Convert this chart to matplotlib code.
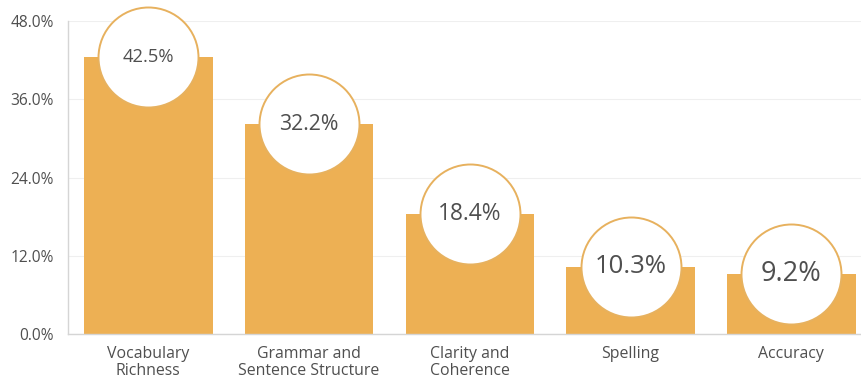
import matplotlib
matplotlib.use("Agg")
import matplotlib.pyplot as plt
from matplotlib.ticker import FuncFormatter

# --- data ---
categories = ["Vocabulary\nRichness", "Grammar and\nSentence Structure",
              "Clarity and\nCoherence", "Spelling", "Accuracy"]
shares = [42.5, 32.2, 18.4, 10.3, 9.2]
y_ticks = [0, 12, 24, 36, 48]

# --- style ---
bar_color = "#EDB054"
ring_color = "#E7B15E"
text_color = "#4F4F4F"
label_sizes = [13.2, 15.3, 16.4, 18.5, 19.5]

plt.rcParams["font.family"] = ["Open Sans", "DejaVu Sans"]

fig = plt.figure(figsize=(8.62, 3.78), dpi=100)
ax = fig.add_axes([68 / 862, 44 / 378, 794 / 862, 313 / 378])

x = list(range(len(categories)))
ax.bar(x, shares, width=0.8, color=bar_color, zorder=2)

# white bubbles sitting on top of each bar
ax.scatter(x, shares, s=72 ** 2, marker="o", facecolor="white",
           edgecolor=ring_color, linewidth=1.4, zorder=3, clip_on=False)
for xi, v, fs in zip(x, shares, label_sizes):
    ax.text(xi, v, f"{v:.1f}%", ha="center", va="center",
            fontsize=fs, color=text_color, zorder=4)

ax.set_xlim(-0.5, 4.44)
ax.set_ylim(0, 48)
ax.set_yticks(y_ticks)
ax.yaxis.set_major_formatter(FuncFormatter(lambda v, _: f"{v:.1f}%"))
ax.set_xticks(x)
ax.set_xticklabels(categories, fontsize=11.4, color=text_color, linespacing=1.1)
ax.tick_params(axis="y", labelsize=11.2, labelcolor=text_color, length=0, pad=10)
ax.tick_params(axis="x", length=0, pad=8.5)

ax.grid(axis="y", color="#EFEFEF", linewidth=0.8, zorder=0)
for side in ["top", "right"]:
    ax.spines[side].set_visible(False)
for side in ["left", "bottom"]:
    ax.spines[side].set_color("#D5D5D5")
    ax.spines[side].set_linewidth(1.0)

fig.savefig("out.png", dpi=100, facecolor="white")
